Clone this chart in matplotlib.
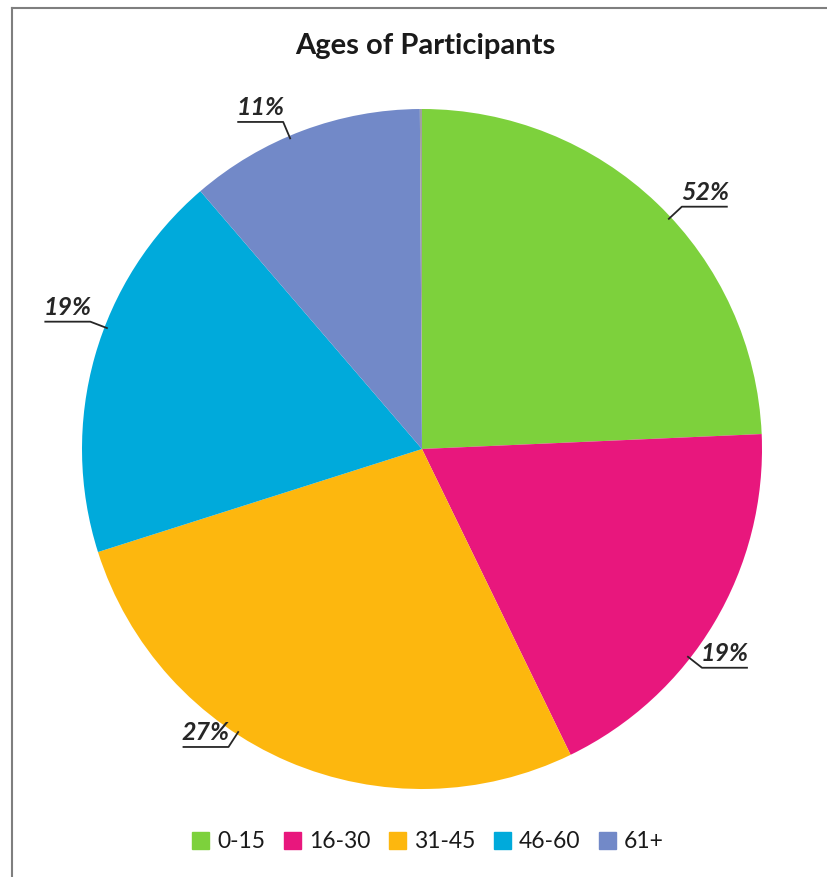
# Pie chart: ages of participants
import numpy as np
import matplotlib.pyplot as plt
from matplotlib.lines import Line2D

plt.rcParams['font.family'] = ['Lato', 'DejaVu Sans']

categories = ['0-15', '16-30', '31-45', '46-60', '61+', '']
shares = [24.3, 18.5, 27.3, 18.6, 11.2, 0.1]
labels = ['52%', '19%', '27%', '19%', '11%', '']
colors = ['#7DD13C', '#E8177D', '#FDB70E', '#00AADB', '#7289C8', '#A0A0A0']

# angle (degrees) where each leader line touches its slice
label_angles = [43, -38, -123, 159, 113]


def main():
    fig = plt.figure(figsize=(8.27, 8.77), dpi=100)
    W, H = 827, 877
    cx, cy, r = 422, 449, 340
    ax = fig.add_axes([(cx - r) / W, (H - cy - r) / H, 2 * r / W, 2 * r / H])

    wedges, _ = ax.pie(shares, colors=colors, startangle=90, counterclock=False,
                       radius=1, wedgeprops=dict(linewidth=0))
    ax.set_xlim(-1, 1)
    ax.set_ylim(-1, 1)
    ax.set_aspect('equal')
    ax.axis('off')

    # Data labels with underline and leader line
    for ang, lab in zip(label_angles, labels):
        a = np.deg2rad(ang)
        x0, y0 = 0.99 * np.cos(a), 0.99 * np.sin(a)
        x1, y1 = 1.045 * np.cos(a), 1.045 * np.sin(a)
        side = 1 if x1 > 0 else -1
        x2 = x1 + side * 0.135
        ax.plot([x0, x1, x2], [y0, y1, y1], color='#262626', lw=1.3,
                clip_on=False, solid_capstyle='butt')
        ax.text((x1 + x2) / 2, y1 + 0.008, lab, ha='center', va='bottom',
                fontsize=18, fontstyle='italic', fontweight='bold',
                color='#262626', clip_on=False)

    fig.text(425 / W, 1 - 46 / H, 'Ages of Participants', ha='center', va='center',
             fontsize=21, fontweight='bold', color='#1a1a1a')

    handles = [plt.Rectangle((0, 0), 1, 1, color=c) for c in colors[:5]]
    fig.legend(handles, categories[:5], loc='center', ncol=5,
               bbox_to_anchor=(428 / W, 1 - 842 / H), frameon=False,
               fontsize=16.5, handlelength=0.75, handleheight=0.75,
               handletextpad=0.35, columnspacing=0.8, labelcolor='#1a1a1a')

    # frame border (top and left visible)
    fig.add_artist(Line2D([12 / W, 12 / W], [0, 1 - 8 / H], color='#7f7f7f', lw=1.5))
    fig.add_artist(Line2D([12 / W, 1], [1 - 8 / H, 1 - 8 / H], color='#7f7f7f', lw=1.5))

    fig.savefig('out.png', dpi=100)


main()
